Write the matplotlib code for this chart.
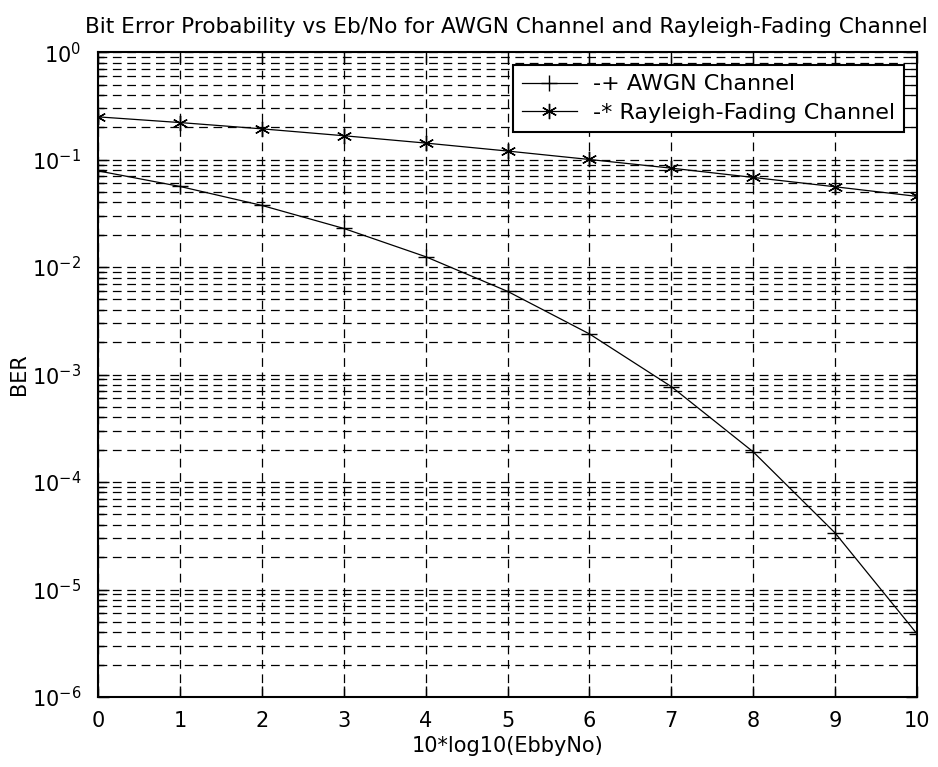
import matplotlib
matplotlib.use("Agg")
import matplotlib.pyplot as plt
from matplotlib.ticker import LogLocator, NullFormatter, FixedLocator

plt.rcParams['font.family'] = ['DejaVu Sans']
plt.rcParams['mathtext.fontset'] = 'dejavusans'
plt.rcParams['axes.unicode_minus'] = False

# Eb/No in dB
ebno_db = [0, 1, 2, 3, 4, 5, 6, 7, 8, 9, 10]
# Bit error rates
ber_awgn = [0.0786, 0.0563, 0.0375, 0.0229, 0.0125, 0.00595, 0.00239,
            7.73e-4, 1.91e-4, 3.36e-5, 3.87e-6]
ber_rayleigh = [0.25, 0.2213, 0.1934, 0.1669, 0.1426, 0.1202, 0.1003,
                0.0833, 0.0683, 0.0559, 0.0455]

x_ticks = [0, 1, 2, 3, 4, 5, 6, 7, 8, 9, 10]
y_ticks = [1e-6, 1e-5, 1e-4, 1e-3, 1e-2, 1e-1, 1e0]

fig = plt.figure(figsize=(9.38, 7.67), dpi=100)
ax = fig.add_axes([0.1045, 0.0913, 0.8731, 0.8407])

asterisk = (6, 2, 0)
ax.semilogy(ebno_db, ber_awgn, color='black', lw=0.9, marker='+',
            markersize=11, markeredgewidth=1.0, label='-+ AWGN Channel')
ax.semilogy(ebno_db, ber_rayleigh, color='black', lw=0.9, marker=asterisk,
            markersize=11, markeredgewidth=1.0, label='-* Rayleigh-Fading Channel')

ax.set_xlim(x_ticks[0], x_ticks[-1])
ax.set_ylim(y_ticks[0], y_ticks[-1])
ax.xaxis.set_major_locator(FixedLocator(x_ticks))
ax.yaxis.set_major_locator(FixedLocator(y_ticks))
ax.yaxis.set_minor_locator(LogLocator(base=10, subs=range(2, 10), numticks=20))
ax.yaxis.set_minor_formatter(NullFormatter())

dash = (0, (7, 4.5))
ax.grid(True, which='major', axis='both', color='black', linestyle=dash, linewidth=0.9)
ax.grid(True, which='minor', axis='y', color='black', linestyle=dash, linewidth=0.9)

ax.tick_params(which='both', direction='in', top=True, right=True, labelsize=15, width=1.0, color='black')
ax.tick_params(which='major', length=8)
ax.tick_params(axis='x', which='major', pad=10)
ax.tick_params(axis='y', which='major', pad=12)
ax.tick_params(which='minor', length=4)
for sp in ax.spines.values():
    sp.set_linewidth(1.5)

ax.set_title('Bit Error Probability vs Eb/No for AWGN Channel and Rayleigh-Fading Channel',
             fontsize=15.6, pad=14, x=0.499)
ax.set_xlabel('10*log10(EbbyNo)', fontsize=15, labelpad=4)
ax.set_ylabel('BER', fontsize=15, labelpad=2)

leg = ax.legend(loc='upper right', fontsize=16, frameon=True, fancybox=False,
                edgecolor='black', framealpha=1, borderaxespad=0.6,
                handlelength=2.5, handletextpad=0.7, borderpad=0.4, labelspacing=0.4)
leg.get_frame().set_linewidth(1.5)

fig.savefig('out.png', dpi=100)
